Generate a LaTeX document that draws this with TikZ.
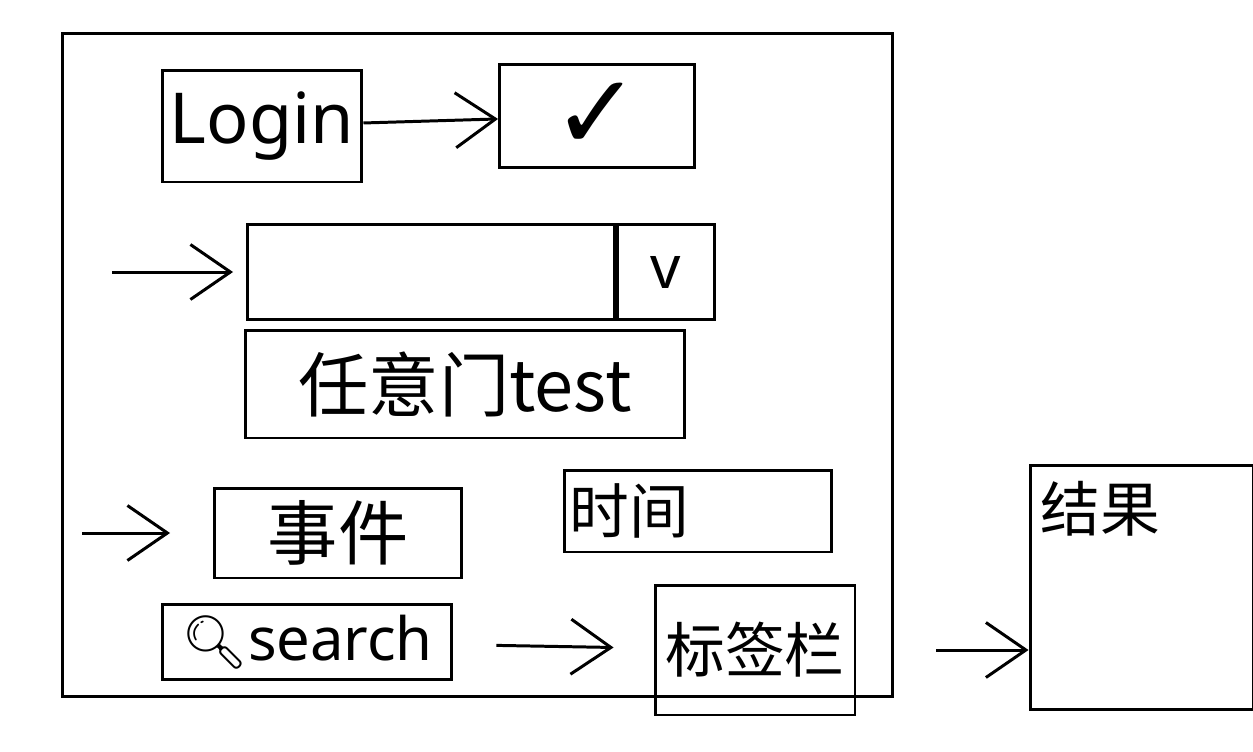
\documentclass[tikz,border=0pt]{standalone}
\usepackage{fontspec}
\setmainfont{Noto Sans}
\newfontfamily\cjk{Noto Sans CJK SC}
\newfontfamily\sym{DejaVu Sans}
\newfontfamily\emoji{Noto Emoji}
\usetikzlibrary{positioning, calc}
\usetikzlibrary{arrows.meta}

\begin{document}
\begin{tikzpicture}[x=0.02cm,y=-0.02cm,line width=1.7pt,
  >={Straight Barb[length=0.8cm,width=1.1cm,line width=1.7pt]},
  sketchbox/.style={draw,inner sep=0.1cm},
  big/.style={font=\fontsize{40}{44}\selectfont},
  mid/.style={font=\fontsize{34}{38}\selectfont}]

\useasboundingbox (0,0) rectangle (1253,751);

% --- Cornice esterna
\node[draw,minimum width=16.62cm,minimum height=13.28cm] (screen) at (477.5,365) {};

% --- Login e conferma
\node[sketchbox,big,minimum width=4cm,minimum height=2.24cm] (login) at (262,126) {Login};
\node[sketchbox,minimum width=3.9cm,minimum height=2.06cm,font=\sym\fontsize{60}{64}\selectfont] (check) at (597,116) {✓};
\draw[->] (login) -- (check);

% --- Campo con menu
\node[sketchbox,minimum width=7.34cm,minimum height=1.9cm] (field) at (431,272) {};
\node[sketchbox,mid,minimum width=1.94cm,minimum height=1.9cm,right=0pt of field] (drop) {v};
\node[sketchbox,big,minimum width=8.8cm,minimum height=2.16cm] (gate) at (465,384) {\cjk 任意门test};
\coordinate (fieldin) at (112,272);
\draw[->,shorten >=0.26cm] (fieldin) -- (field.west);

% --- Evento, tempo, ricerca
\node[sketchbox,big,minimum width=4.94cm,minimum height=1.8cm] (event) at (338,533) {\cjk 事件};
\node[sketchbox,mid,text width=5.14cm,minimum height=1.64cm,align=left] (time) at (698,511) {\cjk 时间};
\node[sketchbox,mid,minimum width=5.8cm,minimum height=1.5cm] (search) at (307,642) {{\emoji\fontsize{30}{34}\selectfont 🔍}search};
\coordinate (eventin) at (82,533);
\draw[->,shorten >=0.86cm] (eventin) -- (event.west);

% --- Etichette e risultato
\node[sketchbox,mid,minimum width=4cm,minimum height=2.6cm] (tags) at (755,650) {\cjk 标签栏};
\node[sketchbox,minimum width=4.46cm,minimum height=4.9cm] (result) at (1141.5,587.5) {};
\node[mid,anchor=north west] (resulttxt) at ([shift={(0.1cm,-0.2cm)}]result.north west) {\cjk 结果};
\draw[->,shorten <=0.86cm,shorten >=0.8cm] (search) -- (tags);
\draw[->,shorten <=1.6cm] (tags.east) -- (tags.east -| result.west);

\end{tikzpicture}
\end{document}
